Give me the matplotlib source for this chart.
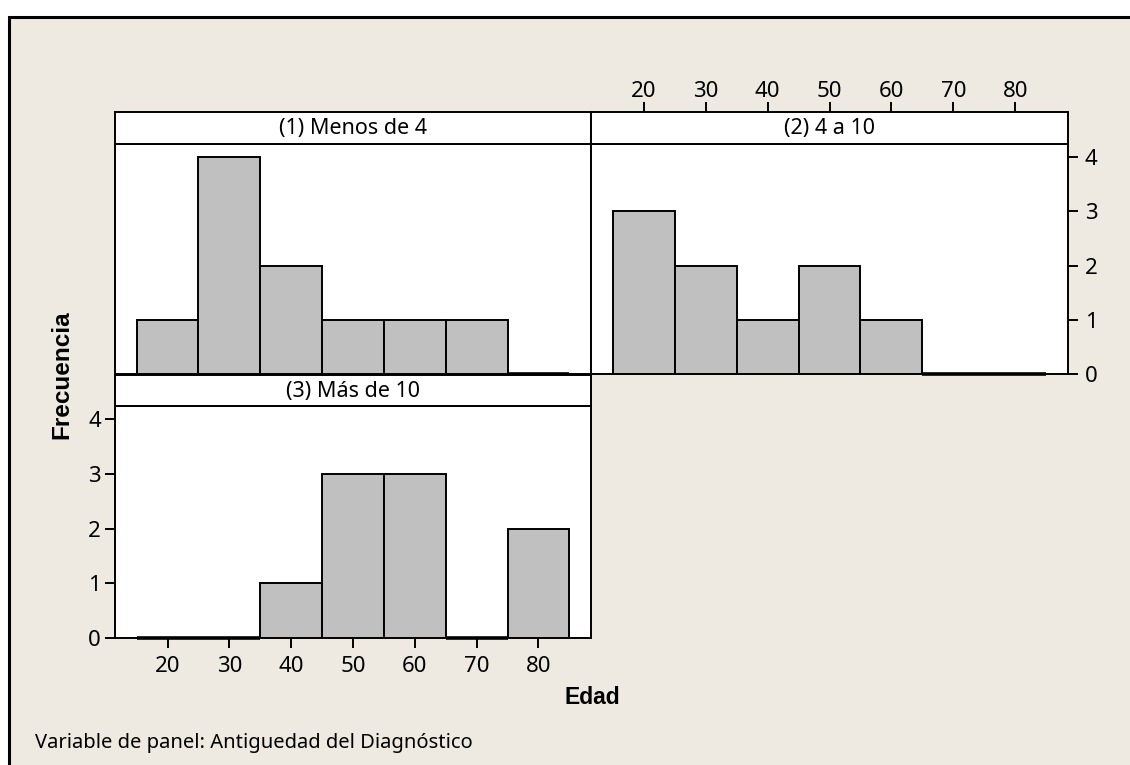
import matplotlib
matplotlib.use("Agg")
import matplotlib.pyplot as plt
from matplotlib.patches import Rectangle

# histogram bins (Edad) and counts per panel
bin_edges = [15, 25, 35, 45, 55, 65, 75, 85]
panel_titles = ["(1) Menos de 4", "(2) 4 a 10", "(3) Más de 10"]
counts_p1 = [1, 4, 2, 1, 1, 1, 0]
counts_p2 = [3, 2, 1, 2, 1, 0, 0]
counts_p3 = [0, 0, 1, 3, 3, 0, 2]
x_ticks = [20, 30, 40, 50, 60, 70, 80]
y_ticks = [0, 1, 2, 3, 4]

W, H = 1130, 765
BG = "#EEEAE1"
BAR = "#C0C0C0"
FONT = "Noto Sans"
FS_TICK = 16
FS_STRIP = 15.5

fig = plt.figure(figsize=(W / 100, H / 100), dpi=100)
fig.patch.set_facecolor("white")

# outer beige frame with black top/left edge, kept behind the panels
fig.patches.append(Rectangle((9 / W, -0.05), 1.2, 1 - 17 / H + 0.05,
                             transform=fig.transFigure, facecolor=BG,
                             edgecolor="black", linewidth=2.2, zorder=-10))


def rect(x0, y0, x1, y1):
    return [x0 / W, 1 - y1 / H, (x1 - x0) / W, (y1 - y0) / H]


def panel(box, strip_box, counts, title):
    ax = fig.add_axes(rect(*box))
    ax.set_facecolor("white")
    lefts = bin_edges[:-1]
    rights = bin_edges[1:]
    widths = [b - a for a, b in zip(lefts, rights)]
    ax.bar(lefts, counts, width=widths, align="edge", color=BAR,
           edgecolor="black", linewidth=1.4, zorder=3)
    # empty bins show as a heavy line on the baseline
    for a, b, c in zip(lefts, rights, counts):
        if c == 0:
            ax.plot([a, b], [0, 0], color="black", lw=2.6,
                    solid_capstyle="butt", clip_on=False, zorder=4)
    ax.set_xlim(11.5, 88.5)
    ax.set_ylim(0, 4.24)
    for s in ax.spines.values():
        s.set_linewidth(1.4)
    ax.tick_params(length=0, labelleft=False, labelbottom=False)
    ax.set_xticks(x_ticks)
    ax.set_yticks(y_ticks)

    sx = fig.add_axes(rect(*strip_box))
    sx.set_facecolor("white")
    sx.set_xlim(11.5, 88.5)
    sx.set_ylim(0, 1)
    for s in sx.spines.values():
        s.set_linewidth(1.4)
    sx.set_yticks([])
    sx.set_xticks(x_ticks)
    sx.tick_params(length=0, labelbottom=False)
    sx.text(0.5, 0.47, title, transform=sx.transAxes, ha="center",
            va="center", fontsize=FS_STRIP, family=FONT)
    return ax, sx


ax1, s1 = panel((115, 144, 591, 374), (115, 112, 591, 144), counts_p1, panel_titles[0])
ax2, s2 = panel((591, 144, 1068, 374), (591, 112, 1068, 144), counts_p2, panel_titles[1])
ax3, s3 = panel((115, 406, 591, 638), (115, 375, 591, 406), counts_p3, panel_titles[2])

tick_kw = dict(length=7, width=1.4, direction="out", labelsize=FS_TICK)

# top x axis on panel 2 strip
s2.tick_params(axis="x", top=True, labeltop=True, bottom=False, pad=0, **tick_kw)
# right y axis on panel 2
ax2.tick_params(axis="y", right=True, labelright=True, left=False, pad=5, **tick_kw)
# left y and bottom x axis on panel 3
ax3.tick_params(axis="y", left=True, labelleft=True, pad=3, **tick_kw)
ax3.tick_params(axis="x", bottom=True, labelbottom=True, pad=6, **tick_kw)

for a in (s2, ax2, ax3):
    for lab in a.get_xticklabels() + a.get_yticklabels():
        lab.set_family(FONT)

fig.text(62 / W, 1 - 375 / H, "Frecuencia", rotation=90, ha="center",
         va="center", fontsize=17.5, fontweight="bold", family="Liberation Sans")
fig.text(592 / W, 1 - 697 / H, "Edad", ha="center", va="center",
         fontsize=16.5, fontweight="bold", family="Liberation Sans")
fig.text(35 / W, 1 - 743 / H, "Variable de panel: Antiguedad del Diagnóstico",
         ha="left", va="center", fontsize=14.5, family=FONT)

fig.savefig("out.png", dpi=100, facecolor=fig.get_facecolor())
